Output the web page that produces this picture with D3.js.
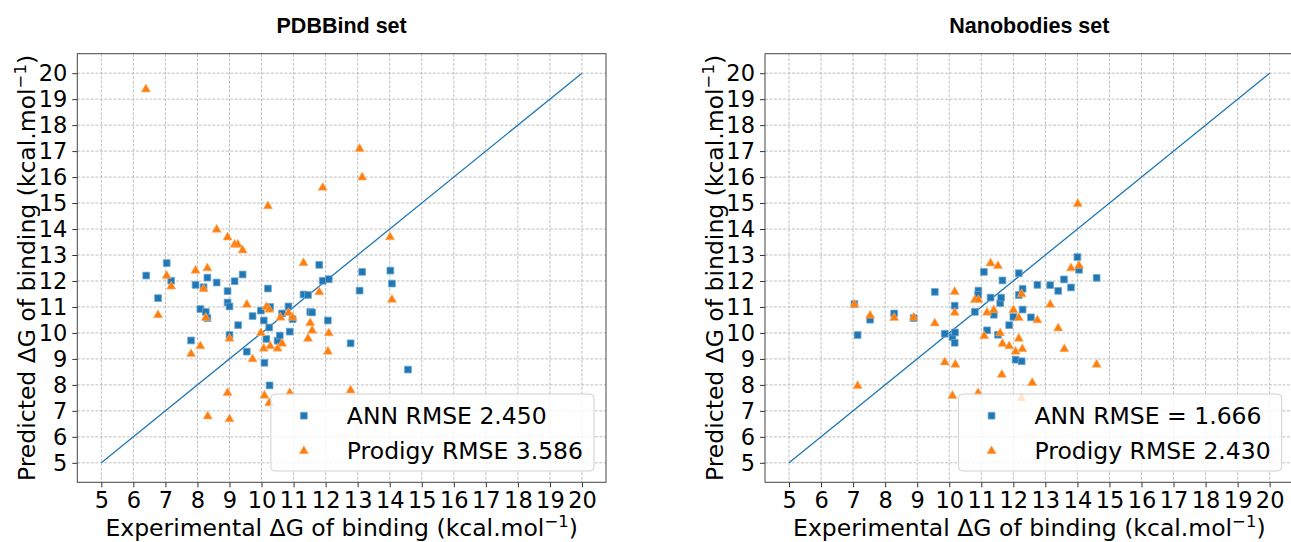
<!DOCTYPE html>
<html>
<head>
<meta charset="utf-8">
<script src="https://cdn.jsdelivr.net/npm/d3@7"></script>
<style>
  body { margin: 0; background: #fff; }
  svg { display: block; font-family: "DejaVu Sans", sans-serif; }
</style>
</head>
<body>
<svg id="chart" width="1291" height="542"></svg>
<script>
// tick values (both axes, both panels)
var ticks = [5, 6, 7, 8, 9, 10, 11, 12, 13, 14, 15, 16, 17, 18, 19, 20];
var diagonal = [5, 20];

// PDBBind set: [experimental, predicted]
var pdbAnn = [
	[6.40, 12.21], [6.77, 11.34], [7.04, 12.69], [7.18, 12.01], [7.80, 9.71],
	[7.94, 11.85], [8.09, 10.92], [8.19, 11.76], [8.26, 10.81], [8.31, 12.13],
	[8.31, 10.57], [8.60, 11.94], [8.94, 11.61], [8.94, 11.17], [9.00, 11.02],
	[9.00, 9.92], [9.16, 11.99], [9.27, 10.30], [9.41, 12.25], [9.54, 9.28],
	[9.72, 10.65], [9.98, 10.86], [10.07, 10.48], [10.09, 8.85], [10.15, 9.77],
	[10.20, 11.71], [10.24, 10.21], [10.25, 7.98], [10.27, 11.00], [10.50, 9.70],
	[10.57, 9.90], [10.64, 10.75], [10.84, 11.02], [10.88, 10.05], [10.97, 10.53],
	[11.31, 11.48], [11.45, 11.46], [11.52, 10.81], [11.58, 10.79], [11.80, 12.62],
	[11.91, 12.01], [12.10, 12.07], [12.07, 10.48], [13.14, 12.35], [14.02, 12.40],
	[13.06, 11.63], [14.07, 11.90], [12.78, 9.60], [14.57, 8.59]
];
var pdbProdigy = [
	[6.39, 19.40], [11.91, 15.61], [10.20, 14.90], [8.60, 14.00], [8.94, 13.70],
	[9.16, 13.42], [9.26, 13.42], [9.41, 13.20], [13.06, 17.11], [13.14, 16.01],
	[14.01, 13.71], [11.31, 12.71], [7.04, 12.22], [7.18, 11.81], [6.77, 10.71],
	[7.94, 12.42], [8.31, 12.51], [8.19, 11.71], [8.26, 10.60], [8.09, 9.51],
	[7.80, 9.21], [9.00, 9.80], [8.94, 7.71], [9.00, 6.70], [8.32, 6.81],
	[9.54, 11.11], [9.72, 9.01], [9.98, 10.02], [10.07, 9.42], [10.09, 7.61],
	[10.24, 7.32], [10.15, 11.02], [10.24, 10.92], [10.27, 9.51], [10.50, 9.42],
	[10.59, 10.61], [10.64, 9.61], [10.84, 10.79], [10.97, 10.61], [10.88, 7.71],
	[11.52, 10.40], [11.58, 10.11], [11.45, 9.80], [11.80, 11.59], [12.10, 10.01],
	[12.07, 9.30], [14.07, 11.30], [12.78, 7.81]
];

// Nanobodies set: [experimental, predicted]
var nanoAnn = [
	[7.04, 11.11], [7.14, 9.92], [7.53, 10.51], [8.28, 10.75], [8.89, 10.57],
	[9.55, 11.58], [9.86, 9.97], [10.10, 9.84], [10.17, 11.05], [10.18, 10.02],
	[10.17, 9.62], [10.80, 10.81], [10.91, 11.63], [10.90, 11.47], [11.08, 12.35],
	[11.18, 10.10], [11.29, 11.36], [11.39, 10.70], [11.52, 9.93], [11.59, 11.15],
	[11.62, 11.36], [11.66, 12.02], [11.87, 10.30], [12.00, 10.62], [12.07, 8.97],
	[12.17, 12.30], [12.17, 11.46], [12.26, 8.91], [12.29, 11.70], [12.29, 10.90],
	[12.55, 10.60], [12.75, 11.85], [13.15, 11.84], [13.40, 11.62], [13.58, 12.06],
	[13.80, 11.75], [14.00, 12.92], [14.05, 12.43], [14.60, 12.12]
];
var nanoProdigy = [
	[14.01, 14.99], [7.04, 11.11], [7.14, 7.98], [7.53, 10.69], [8.28, 10.60],
	[8.89, 10.61], [9.55, 10.39], [9.86, 8.89], [10.10, 7.60], [10.17, 11.60],
	[10.17, 10.80], [10.19, 8.80], [10.80, 11.29], [10.91, 11.29], [10.90, 7.71],
	[11.09, 9.90], [11.18, 10.80], [11.29, 12.70], [11.39, 10.90], [11.52, 12.60],
	[11.59, 10.01], [11.66, 9.60], [11.64, 8.41], [11.87, 9.51], [12.00, 10.90],
	[12.07, 9.30], [12.17, 9.80], [12.17, 10.60], [12.26, 11.51], [12.28, 9.40],
	[12.25, 7.50], [12.59, 8.10], [12.75, 10.51], [13.15, 11.11], [13.40, 10.20],
	[13.59, 9.40], [13.80, 12.51], [14.05, 12.61], [14.60, 8.80]
];

var blue = "#1f77b4";
var orange = "#ff7f0e";
var fontSize = 23.5;
var tickFont = 22.5;

var svg = d3.select("#chart");

var panels = [
	{ title: "PDBBind set", ann: pdbAnn, prodigy: pdbProdigy,
	  labels: ["ANN RMSE 2.450", "Prodigy RMSE 3.586"], left: 77.3 },
	{ title: "Nanobodies set", ann: nanoAnn, prodigy: nanoProdigy,
	  labels: ["ANN RMSE = 1.666", "Prodigy RMSE 2.430"], left: 765 }
];

var plotW = 528.7, plotTop = 53.7, plotBottom = 482.3;

panels.forEach(function (p) {
	var x = d3.scaleLinear().domain([4.25, 20.75]).range([p.left, p.left + plotW]);
	var y = d3.scaleLinear().domain([4.25, 20.75]).range([plotBottom, plotTop]);
	var g = svg.append("g");

	// grid
	g.append("g").selectAll("line").data(ticks).enter().append("line")
		.attr("x1", d => x(d)).attr("x2", d => x(d))
		.attr("y1", plotTop).attr("y2", plotBottom)
		.style("stroke", "#b0b0b0").style("stroke-width", 0.8)
		.style("stroke-dasharray", "3,1.5");
	g.append("g").selectAll("line").data(ticks).enter().append("line")
		.attr("y1", d => y(d)).attr("y2", d => y(d))
		.attr("x1", p.left).attr("x2", p.left + plotW)
		.style("stroke", "#b0b0b0").style("stroke-width", 0.8)
		.style("stroke-dasharray", "3,1.5");

	// axes
	var xAxis = g.append("g").attr("transform", `translate(0, ${plotBottom})`)
		.call(d3.axisBottom(x).tickValues(ticks).tickSize(5).tickPadding(5));
	var yAxis = g.append("g").attr("transform", `translate(${p.left}, 0)`)
		.call(d3.axisLeft(y).tickValues(ticks).tickSize(5).tickPadding(5));
	[xAxis, yAxis].forEach(function (a) {
		a.select(".domain").remove();
		a.selectAll("line").style("stroke", "#333");
		a.selectAll("text").style("font-family", "DejaVu Sans")
			.style("font-size", tickFont + "px").style("fill", "#000");
	});

	// frame
	g.append("rect")
		.attr("x", p.left).attr("y", plotTop)
		.attr("width", plotW).attr("height", plotBottom - plotTop)
		.style("fill", "none").style("stroke", "#444").style("stroke-width", 1);

	// diagonal
	g.append("line")
		.attr("x1", x(diagonal[0])).attr("y1", y(diagonal[0]))
		.attr("x2", x(diagonal[1])).attr("y2", y(diagonal[1]))
		.style("stroke", blue).style("stroke-width", 1.3);

	var square = d3.symbol().type(d3.symbolSquare).size(46);
	var tri = d3.symbol().type(d3.symbolTriangle).size(36);

	g.append("g").selectAll("path").data(p.ann).enter().append("path")
		.attr("d", square)
		.attr("transform", d => `translate(${x(d[0])}, ${y(d[1])})`)
		.style("fill", blue).style("stroke", "#6fa6cf").style("stroke-width", 0.8);

	g.append("g").selectAll("path").data(p.prodigy).enter().append("path")
		.attr("d", tri)
		.attr("transform", d => `translate(${x(d[0])}, ${y(d[1]) + 0.5})`)
		.style("fill", orange).style("stroke", "#ffb070").style("stroke-width", 0.6);

	// titles and labels
	var cx = p.left + plotW / 2;
	svg.append("text")
		.attr("x", cx).attr("y", 33)
		.attr("text-anchor", "middle")
		.style("font-family", "Liberation Sans, Arial, sans-serif")
		.style("font-weight", "bold").style("font-size", "21.5px")
		.text(p.title);

	var xl = svg.append("text")
		.attr("x", cx).attr("y", 536)
		.attr("text-anchor", "middle")
		.style("font-size", fontSize + "px");
	xl.append("tspan").text("Experimental \u0394G of binding (kcal.mol");
	xl.append("tspan").attr("dy", -9).style("font-size", "16.5px").text("\u22121");
	xl.append("tspan").attr("dy", 9).text(")");

	var yl = svg.append("text")
		.attr("transform", `translate(${p.left - 42}, ${(plotTop + plotBottom) / 2}) rotate(-90)`)
		.attr("text-anchor", "middle")
		.style("font-size", fontSize + "px");
	yl.append("tspan").text("Predicted \u0394G of binding (kcal.mol");
	yl.append("tspan").attr("dy", -9).style("font-size", "16.5px").text("\u22121");
	yl.append("tspan").attr("dy", 9).text(")");

	// legend
	var lg = g.append("g");
	var box = lg.append("rect");
	var texts = p.labels.map(function (t, i) {
		return lg.append("text").attr("y", 424 + i * 35)
			.style("font-size", fontSize + "px").text(t);
	});
	var maxW = d3.max(texts, t => t.node().getComputedTextLength());
	var bw = 76 + maxW + 11;
	var bx = p.left + plotW - 12 - bw;
	box.attr("x", bx).attr("y", 394).attr("width", bw).attr("height", 77)
		.attr("rx", 4)
		.style("fill", "rgba(255,255,255,0.8)").style("stroke", "#d0d0d0");
	texts.forEach(t => t.attr("x", bx + 76));
	lg.append("path").attr("d", square)
		.attr("transform", `translate(${bx + 33}, 415.7)`)
		.style("fill", blue).style("stroke", "#6fa6cf").style("stroke-width", 0.8);
	lg.append("path").attr("d", tri)
		.attr("transform", `translate(${bx + 33}, 451)`)
		.style("fill", orange).style("stroke", "#ffb070").style("stroke-width", 0.6);
});
</script>
</body>
</html>
